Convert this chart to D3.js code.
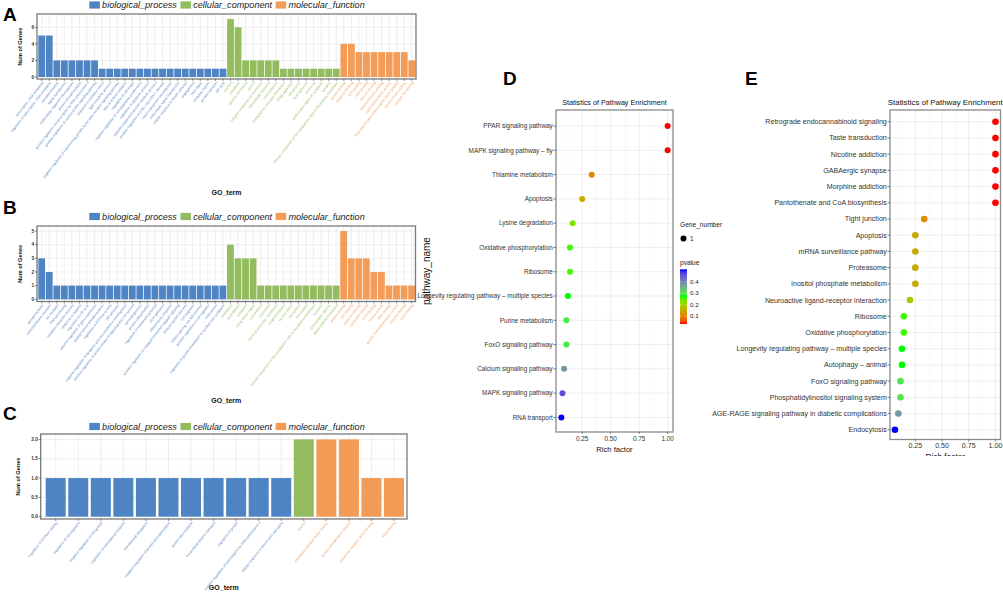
<!DOCTYPE html>
<html>
<head>
<meta charset="utf-8">
<script src="https://cdn.jsdelivr.net/npm/d3@7"></script>
<style>
body { margin: 0; background: #fff; }
text { font-family: "Liberation Sans", Arial, sans-serif; }
</style>
</head>
<body>
<script>
// ---------- GO panel A ----------
var goA_bp_terms = ['transcription, DNA-templated','regulation of transcription, DNA-templated','cell differentiation','signal transduction','multicellular organism development','protein phosphorylation','positive regulation of transcription by RNA polymerase II','positive regulation of canonical Wnt signaling pathway','response to oxidative stress','lipid metabolic process','negative regulation of transforming growth factor beta receptor signaling pathway','fatty acid beta-oxidation','regulation of cell shape','negative regulation of cell population proliferation','regulation of apoptotic process','ubiquitin-dependent protein catabolic process','positive regulation of ERK1 and ERK2 cascade','neuron projection development','intracellular signal transduction','cellular response to insulin stimulus','angiogenesis','DNA repair','circadian rhythm','protein transport','cell cycle']
var goA_bp_counts = [5,5,2,2,2,2,2,2,1,1,1,1,1,1,1,1,1,1,1,1,1,1,1,1,1]
var goA_cc_terms = ['nucleus','cytoplasm','plasma membrane','cytosol','integral component of membrane','extracellular exosome','mitochondrion','endoplasmic reticulum membrane','Golgi apparatus','cell junction','focal adhesion','lysosome','perinuclear region of cytoplasm','synapse','intrinsic component of the cytoplasmic side of the plasma membrane']
var goA_cc_counts = [7,6,2,2,2,2,2,1,1,1,1,1,1,1,1]
var goA_mf_terms = ['protein binding','metal ion binding','ATP binding','DNA binding','zinc ion binding','identical protein binding','transcription factor activity','RNA polymerase II transcription factor binding','protein kinase activity','calcium ion binding']
var goA_mf_counts = [4,4,3,3,3,3,3,3,3,2]

// ---------- GO panel B ----------
var goB_bp_terms = ['phosphorylation','transmembrane transport','ion transport','RNA processing','oxidation-reduction process','response to hypoxia','regulation of cell cycle','positive regulation of gene expression','peptidyl-serine phosphorylation','regulation of GTPase activity','cell adhesion','negative regulation of apoptotic process involved in development','positive regulation of protein kinase B signaling and cell survival','spermatogenesis','protein ubiquitination','regulation of membrane potential','axon guidance','inflammatory response','positive regulation of I-kappaB kinase/NF-kappaB signaling','immune system process','cell migration','mRNA splicing, via spliceosome','positive regulation of cell migration','endocytosis','regulation of protein localization to nucleus and cytoplasm']
var goB_bp_counts = [3,2,1,1,1,1,1,1,1,1,1,1,1,1,1,1,1,1,1,1,1,1,1,1,1]
var goB_cc_terms = ['membrane','nucleoplasm','cytoplasm','extracellular region','cytoskeleton','endosome','mitochondrial inner membrane','Golgi membrane','nuclear speck','cell surface','microtubule','intrinsic component of the cytoplasmic side of the plasma membrane','ribosome','postsynaptic density','apical plasma membrane']
var goB_cc_counts = [4,3,3,3,1,1,1,1,1,1,1,1,1,1,1]
var goB_mf_terms = ['protein binding','ATP binding','metal ion binding','nucleotide binding','GTP binding','kinase activity','RNA binding','protein homodimerization activity','enzyme binding','actin binding']
var goB_mf_counts = [5,3,3,3,2,2,1,1,1,1]

// ---------- GO panel C ----------
var goC_bp_terms = ['regulation of GTPase activity','regulation of cell migration','negative regulation of cell growth','regulation of translational initiation','translational elongation','negative regulation of protein phosphorylation','protein glycosylation','intracellular protein transport','regulation of growth','positive regulation of transcription by RNA polymerase II','cellular response to amino acid starvation']
var goC_bp_counts = [1,1,1,1,1,1,1,1,1,1,1]
var goC_cc_terms = ['cytosol']
var goC_cc_counts = [2]
var goC_mf_terms = ['translation initiation factor activity','protein phosphatase binding','eukaryotic initiation factor binding','RNA binding']
var goC_mf_counts = [2,2,1,1]

var go_categories = ['biological_process','cellular_component','molecular_function']

// ---------- KEGG panel D ----------
var keggD_terms = ['PPAR signaling pathway','MAPK signaling pathway - fly','Thiamine metabolism','Apoptosis','Lysine degradation','Oxidative phosphorylation','Ribosome','Longevity regulating pathway - multiple species','Purine metabolism','FoxO signaling pathway','Calcium signaling pathway','MAPK signaling pathway','RNA transport']
var keggD_rich = [1.0,1.0,0.333,0.25,0.167,0.143,0.143,0.125,0.111,0.111,0.091,0.077,0.067]
var keggD_pvalue = [0.033,0.033,0.11,0.15,0.23,0.26,0.26,0.27,0.29,0.29,0.38,0.46,0.508]
var keggD_ticks = [0.25,0.50,0.75,1.00]
var pvalue_ticks = [0.1,0.2,0.3,0.4]

// ---------- KEGG panel E ----------
var keggE_terms = ['Retrograde endocannabinoid signaling','Taste transduction','Nicotine addiction','GABAergic synapse','Morphine addiction','Pantothenate and CoA biosynthesis','Tight junction','Apoptosis','mRNA surveillance pathway','Proteasome','Inositol phosphate metabolism','Neuroactive ligand-receptor interaction','Ribosome','Oxidative phosphorylation','Longevity regulating pathway - multiple species','Autophagy - animal','FoxO signaling pathway','Phosphatidylinositol signaling system','AGE-RAGE signaling pathway in diabetic complications','Endocytosis']
var keggE_rich = [1.0,1.0,1.0,1.0,1.0,1.0,0.333,0.25,0.25,0.25,0.25,0.2,0.143,0.143,0.125,0.125,0.111,0.111,0.091,0.059]
var keggE_pvalue = [0.033,0.033,0.033,0.033,0.033,0.033,0.11,0.15,0.15,0.15,0.15,0.19,0.26,0.26,0.27,0.27,0.30,0.30,0.38,0.508]
var keggE_ticks = [0.25,0.50,0.75,1.00]

var catColor = d3.scaleOrdinal()
	.domain(go_categories)
	.range(['#4F84C4','#93BC5E','#F39C57'])

var pColor = d3.scaleLinear()
	.domain([0.033,0.27,0.508])
	.range(['#ff0000','#00ff00','#0000ff'])
	.interpolate(d3.interpolateLab)

var svg = d3.select('body').append('svg')
	.attr('width',1003)
	.attr('height',593)

svg.append('rect').attr('width',1003).attr('height',593).attr('fill','#fff')

function goRows(bpT,bpN,ccT,ccN,mfT,mfN) {
	var out = []
	bpT.forEach(function(t,i){ out.push({term:t,n:bpN[i],cat:go_categories[0]}) })
	ccT.forEach(function(t,i){ out.push({term:t,n:ccN[i],cat:go_categories[1]}) })
	mfT.forEach(function(t,i){ out.push({term:t,n:mfN[i],cat:go_categories[2]}) })
	return out
}

function drawLegend(g,x,y,swW) {
	var cx = x
	go_categories.forEach(function(c){
		g.append('rect')
			.attr('x',cx).attr('y',y-3.6)
			.attr('width',swW).attr('height',7.2)
			.attr('fill',catColor(c))
		var t = g.append('text')
			.attr('x',cx+swW+2.2).attr('y',y)
			.attr('dy','0.35em')
			.style('font-size','9.1px')
			.style('font-style','italic')
			.attr('fill','#1a1a1a')
			.text(c)
		cx += swW + 2.2 + t.node().getComputedTextLength() + 3.5
	})
}

function drawGO(p) {
	var g = svg.append('g')
	var x = d3.scaleBand()
		.domain(p.rows.map(function(d,i){ return i }))
		.range(p.barRange)
		.paddingInner(p.padInner)
	var y = d3.scaleLinear()
		.domain(p.yDomain)
		.range([p.y1,p.y0])

	// minor grid
	g.selectAll('.minor').data(p.yMinor).enter().append('line')
		.attr('x1',p.x0).attr('x2',p.x1)
		.attr('y1',function(d){ return y(d) }).attr('y2',function(d){ return y(d) })
		.attr('stroke','#f2f2f2').attr('stroke-width',0.4)
	g.selectAll('.hmajor').data(p.yTicks).enter().append('line')
		.attr('x1',p.x0).attr('x2',p.x1)
		.attr('y1',function(d){ return y(d) }).attr('y2',function(d){ return y(d) })
		.attr('stroke','#e6e6e6').attr('stroke-width',0.7)
	g.selectAll('.vmajor').data(p.rows).enter().append('line')
		.attr('x1',function(d,i){ return x(i)+x.bandwidth()/2 })
		.attr('x2',function(d,i){ return x(i)+x.bandwidth()/2 })
		.attr('y1',p.y0).attr('y2',p.y1)
		.attr('stroke','#e6e6e6').attr('stroke-width',0.7)

	g.selectAll('.bar').data(p.rows).enter().append('rect')
		.attr('x',function(d,i){ return x(i) })
		.attr('width',x.bandwidth())
		.attr('y',function(d){ return y(d.n) })
		.attr('height',function(d){ return y(0) - y(d.n) })
		.attr('fill',function(d){ return catColor(d.cat) })

	g.append('rect')
		.attr('x',p.x0).attr('y',p.y0)
		.attr('width',p.x1-p.x0).attr('height',p.y1-p.y0)
		.attr('fill','none').attr('stroke','#7a7a7a').attr('stroke-width',1.3)

	// y axis
	g.selectAll('.ytick').data(p.yTicks).enter().append('line')
		.attr('x1',p.x0-2).attr('x2',p.x0)
		.attr('y1',function(d){ return y(d) }).attr('y2',function(d){ return y(d) })
		.attr('stroke','#333').attr('stroke-width',0.6)
	g.selectAll('.ylab').data(p.yTicks).enter().append('text')
		.attr('x',p.x0-2.8)
		.attr('y',function(d){ return y(d) })
		.attr('dy','0.35em')
		.attr('text-anchor','end')
		.style('font-size','4.8px').style('font-weight','bold')
		.attr('fill','#333')
		.text(p.fmt)
	g.append('text')
		.attr('transform','translate('+p.yTitleX+','+((p.y0+p.y1)/2)+') rotate(-90)')
		.attr('text-anchor','middle')
		.attr('dy','0.35em')
		.style('font-size','5.6px').style('font-weight','bold')
		.attr('fill','#111')
		.text('Num of Genes')

	// x axis
	g.selectAll('.xtick').data(p.rows).enter().append('line')
		.attr('x1',function(d,i){ return x(i)+x.bandwidth()/2 })
		.attr('x2',function(d,i){ return x(i)+x.bandwidth()/2 })
		.attr('y1',p.y1).attr('y2',p.y1+2)
		.attr('stroke','#333').attr('stroke-width',0.5)
	g.selectAll('.xlab').data(p.rows).enter().append('text')
		.attr('transform',function(d,i){
			return 'translate('+(x(i)+x.bandwidth()/2+1)+','+(p.y1+3)+') rotate('+p.angle+')'
		})
		.attr('text-anchor','end')
		.attr('dy','0.35em')
		.style('font-size',p.labelSize+'px')
		.attr('fill',function(d){ return catColor(d.cat) })
		.text(function(d){ return d.term })
	g.append('text')
		.attr('x',(p.x0+p.x1)/2).attr('y',p.titleY)
		.attr('dy','0.35em')
		.attr('text-anchor','middle')
		.style('font-size','7px').style('font-weight','bold')
		.attr('fill','#111')
		.text('GO_term')

	drawLegend(g,89.3,p.legendY,10.6)
	g.append('text')
		.attr('x',3).attr('y',p.letterY)
		.style('font-size','19px').style('font-weight','bold')
		.text(p.letter)
}

drawGO({
	rows: goRows(goA_bp_terms,goA_bp_counts,goA_cc_terms,goA_cc_counts,goA_mf_terms,goA_mf_counts),
	x0:37, x1:416, y0:14, y1:79, barRange:[38.3,415.2], padInner:0.1,
	yDomain:[-0.24,7.6], yTicks:[0,2,4,6], yMinor:[1,3,5,7], fmt:d3.format('d'),
	yTitleX:20, angle:-52, labelSize:3.4, titleY:193, legendY:5, letter:'A', letterY:20.5
})
drawGO({
	rows: goRows(goB_bp_terms,goB_bp_counts,goB_cc_terms,goB_cc_counts,goB_mf_terms,goB_mf_counts),
	x0:37, x1:415.5, y0:226, y1:301.5, barRange:[38.3,415], padInner:0.1,
	yDomain:[-0.16,5.37], yTicks:[0,1,2,3,4,5], yMinor:[0.5,1.5,2.5,3.5,4.5], fmt:d3.format('d'),
	yTitleX:20, angle:-52, labelSize:3.4, titleY:401, legendY:216.5, letter:'B', letterY:214
})
drawGO({
	rows: goRows(goC_bp_terms,goC_bp_counts,goC_cc_terms,goC_cc_counts,goC_mf_terms,goC_mf_counts),
	x0:40.7, x1:407, y0:434, y1:519, barRange:[45.7,404], padInner:0.113,
	yDomain:[-0.06,2.14], yTicks:[0,0.5,1,1.5,2], yMinor:[0.25,0.75,1.25,1.75], fmt:d3.format('.1f'),
	yTitleX:18, angle:-51, labelSize:3.5, titleY:588, legendY:426.5, letter:'C', letterY:420
})

function drawKEGG(p) {
	var g = svg.append('g')
	if (p.clip) {
		svg.append('clipPath').attr('id',p.clip)
			.append('rect').attr('x',p.clipRect[0]).attr('y',p.clipRect[1])
			.attr('width',p.clipRect[2]).attr('height',p.clipRect[3])
		g.attr('clip-path','url(#'+p.clip+')')
	}
	var x = d3.scaleLinear().domain(p.xDomain).range([p.x0,p.x1])
	var y = d3.scalePoint().domain(p.terms).range([p.yr0,p.y1]).padding(0.6)
	var minor = [0.125,0.375,0.625,0.875]

	g.selectAll('.vminor').data(minor).enter().append('line')
		.attr('x1',function(d){ return x(d) }).attr('x2',function(d){ return x(d) })
		.attr('y1',p.y0).attr('y2',p.y1)
		.attr('stroke','#f2f2f2').attr('stroke-width',0.4)
	g.selectAll('.vmajor').data(p.ticks).enter().append('line')
		.attr('x1',function(d){ return x(d) }).attr('x2',function(d){ return x(d) })
		.attr('y1',p.y0).attr('y2',p.y1)
		.attr('stroke','#e6e6e6').attr('stroke-width',0.7)
	g.selectAll('.hmajor').data(p.terms).enter().append('line')
		.attr('x1',p.x0).attr('x2',p.x1)
		.attr('y1',function(d){ return y(d) }).attr('y2',function(d){ return y(d) })
		.attr('stroke','#e6e6e6').attr('stroke-width',0.7)

	g.selectAll('.dot').data(p.terms).enter().append('circle')
		.attr('cx',function(d,i){ return x(p.rich[i]) })
		.attr('cy',function(d){ return y(d) })
		.attr('r',p.r)
		.attr('fill',function(d,i){ return pColor(p.pvalue[i]) })

	g.append('rect')
		.attr('x',p.x0).attr('y',p.y0)
		.attr('width',p.x1-p.x0).attr('height',p.y1-p.y0)
		.attr('fill','none').attr('stroke','#8a8a8a').attr('stroke-width',1.3)

	g.selectAll('.ytick').data(p.terms).enter().append('line')
		.attr('x1',p.x0-2.5).attr('x2',p.x0)
		.attr('y1',function(d){ return y(d) }).attr('y2',function(d){ return y(d) })
		.attr('stroke','#333').attr('stroke-width',0.6)
	g.selectAll('.ylab').data(p.terms).enter().append('text')
		.attr('x',p.x0-3.2)
		.attr('y',function(d){ return y(d) })
		.attr('dy','0.35em')
		.attr('text-anchor','end')
		.style('font-size',p.fs+'px')
		.attr('fill','#333')
		.text(function(d){ return d.replace(' - ',' \u2013 ') })

	g.selectAll('.xtick').data(p.ticks).enter().append('line')
		.attr('x1',function(d){ return x(d) }).attr('x2',function(d){ return x(d) })
		.attr('y1',p.y1).attr('y2',p.y1+2)
		.attr('stroke','#333').attr('stroke-width',0.6)
	g.selectAll('.xlab').data(p.ticks).enter().append('text')
		.attr('x',function(d){ return x(d) })
		.attr('y',p.y1+6.5)
		.attr('dy','0.35em')
		.attr('text-anchor','middle')
		.style('font-size',p.fs+'px')
		.attr('fill','#333')
		.text(d3.format('.2f'))
	g.append('text')
		.attr('x',(p.x0+p.x1)/2).attr('y',p.y1+17.5)
		.attr('dy','0.35em')
		.attr('text-anchor','middle')
		.style('font-size',(p.fs+1.2)+'px')
		.attr('fill','#111')
		.text('Rich factor')
	g.append('text')
		.attr('x',(p.x0+p.x1)/2).attr('y',p.y0-7.5)
		.attr('dy','0.35em')
		.attr('text-anchor','middle')
		.style('font-size',(p.fs+0.8)+'px')
		.attr('fill','#111')
		.text('Statistics of Pathway Enrichment')
	svg.append('text')
		.attr('x',p.letterX).attr('y',85)
		.style('font-size','19px').style('font-weight','bold')
		.text(p.letter)
	return g
}

drawKEGG({
	terms:keggD_terms, rich:keggD_rich, pvalue:keggD_pvalue, ticks:keggD_ticks,
	x0:556, x1:673, y0:110, y1:432, yr0:111.5, xDomain:[0.02,1.047],
	fs:6.4, r:3, letter:'D', letterX:503
})
drawKEGG({
	terms:keggE_terms, rich:keggE_rich, pvalue:keggE_pvalue, ticks:keggE_ticks,
	x0:890, x1:1000.5, y0:110, y1:439.5, yr0:112, xDomain:[0.013,1.047],
	fs:7.1, r:3.3, letter:'E', letterX:745, clip:'clipE', clipRect:[700,0,303,456]
})

// pathway_name axis title of panel D
svg.append('text')
	.attr('transform','translate(426,271) rotate(-90)')
	.attr('text-anchor','middle')
	.attr('dy','0.35em')
	.style('font-size','10px')
	.attr('fill','#111')
	.text('pathway_name')

// legends of panel D
var lg = svg.append('g')
lg.append('text').attr('x',680).attr('y',225).attr('dy','0.35em')
	.style('font-size','6.6px').attr('fill','#222').text('Gene_number')
lg.append('circle').attr('cx',683.5).attr('cy',238.5).attr('r',3).attr('fill','#000')
lg.append('text').attr('x',690).attr('y',238.5).attr('dy','0.35em')
	.style('font-size','6.4px').attr('fill','#222').text('1')
lg.append('text').attr('x',680).attr('y',262.7).attr('dy','0.35em')
	.style('font-size','6.6px').attr('fill','#222').text('pvalue')

var pLeg = d3.scaleLinear().domain([0.033,0.508]).range([324,269.3])
var grad = svg.append('defs').append('linearGradient')
	.attr('id','pgrad').attr('x1',0).attr('x2',0).attr('y1',1).attr('y2',0)
d3.range(0,1.0001,0.05).forEach(function(t){
	var v = 0.033 + t*(0.508-0.033)
	grad.append('stop').attr('offset',t).attr('stop-color',pColor(v))
})
lg.append('rect').attr('x',680).attr('y',pLeg(0.508))
	.attr('width',7).attr('height',pLeg(0.033)-pLeg(0.508))
	.attr('fill','url(#pgrad)')
lg.selectAll('.pt').data(pvalue_ticks).enter().append('line')
	.attr('x1',680).attr('x2',681.5)
	.attr('y1',function(d){ return pLeg(d) }).attr('y2',function(d){ return pLeg(d) })
	.attr('stroke','#fff').attr('stroke-width',0.5)
lg.selectAll('.pt2').data(pvalue_ticks).enter().append('line')
	.attr('x1',685.5).attr('x2',687)
	.attr('y1',function(d){ return pLeg(d) }).attr('y2',function(d){ return pLeg(d) })
	.attr('stroke','#fff').attr('stroke-width',0.5)
lg.selectAll('.pl').data(pvalue_ticks).enter().append('text')
	.attr('x',690).attr('y',function(d){ return pLeg(d) })
	.attr('dy','0.35em')
	.style('font-size','6.2px').attr('fill','#222')
	.text(d3.format('.1f'))
</script>
</body>
</html>
